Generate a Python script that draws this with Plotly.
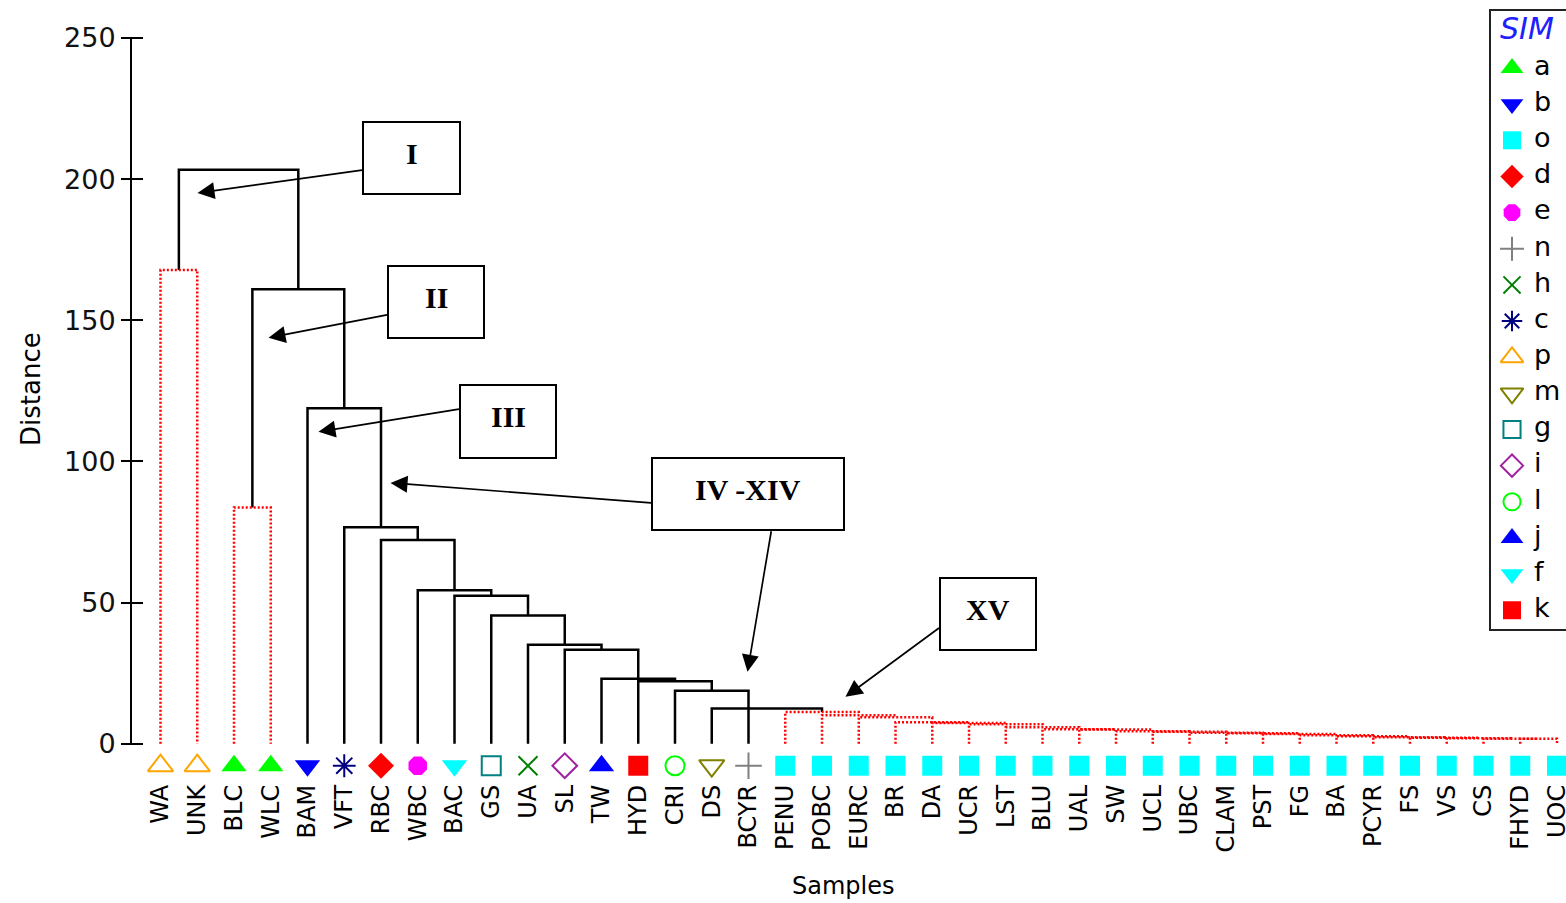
import plotly.graph_objects as go

# ---- samples in dendrogram order and their class labels ----
leaf_names = ["WA", "UNK", "BLC", "WLC", "BAM", "VFT", "RBC", "WBC", "BAC", "GS",
              "UA", "SL", "TW", "HYD", "CRI", "DS", "BCYR", "PENU", "POBC", "EURC",
              "BR", "DA", "UCR", "LST", "BLU", "UAL", "SW", "UCL", "UBC", "CLAM",
              "PST", "FG", "BA", "PCYR", "FS", "VS", "CS", "FHYD", "UOC"]
leaf_class = ["p", "p", "a", "a", "b", "c", "d", "e", "f", "g",
              "h", "i", "j", "k", "l", "m", "n", "o", "o", "o",
              "o", "o", "o", "o", "o", "o", "o", "o", "o", "o",
              "o", "o", "o", "o", "o", "o", "o", "o", "o"]

# classes in legend order
class_order = ["a", "b", "o", "d", "e", "n", "h", "c", "p", "m", "g", "i", "l", "j", "f", "k"]

# ---- merges (children are defined before their parents) ----
link_id = ["WA+UNK", "BLC+WLC",
           "m37", "m36", "m35", "m34", "m33", "m32", "m31", "m30", "m29", "m28", "m27",
           "m26", "m25", "m24", "m23", "m22", "m21", "m20", "m19", "m18", "m17",
           "DS+m17", "CRI+BCYR",
           "c13", "c12", "c11", "c10", "c9", "c8", "c7", "c6", "c5", "c4", "c3",
           "root"]
link_left = ["WA", "BLC",
             "FHYD", "CS", "VS", "FS", "PCYR", "BA", "FG", "PST", "CLAM", "UBC", "UCL",
             "SW", "UAL", "BLU", "LST", "UCR", "DA", "BR", "EURC", "POBC", "PENU",
             "DS", "CRI",
             "HYD", "TW", "SL", "UA", "GS", "BAC", "WBC", "RBC", "VFT", "BAM", "BLC+WLC",
             "WA+UNK"]
link_right = ["UNK", "WLC",
              "UOC", "m37", "m36", "m35", "m34", "m33", "m32", "m31", "m30", "m29", "m28",
              "m27", "m26", "m25", "m24", "m23", "m22", "m21", "m20", "m19", "m18",
              "m17", "BCYR",
              "CRI+BCYR", "c13", "c12", "c11", "c10", "c9", "c8", "c7", "c6", "c5", "c4",
              "c3"]
link_height = [167.8, 83.7,
               1.75, 1.8, 1.95, 2.1, 2.3, 2.65, 3.0, 3.4, 3.7, 3.9, 4.25,
               4.4, 5.0, 5.1, 5.8, 6.9, 7.3, 7.6, 9.4, 10.1, 11.2,
               12.5, 18.8,
               22.1, 23.0, 33.3, 35.1, 45.4, 52.4, 54.4, 72.2, 76.7, 118.8, 161.0,
               203.3]

y_ticks = [0, 50, 100, 150, 200, 250]

# ---- styling ----
class_style = {
    "a": dict(symbol="triangle-up", color="#00ff00"),
    "b": dict(symbol="triangle-down", color="#0000ff"),
    "o": dict(symbol="square", color="#00ffff"),
    "d": dict(symbol="diamond", color="#ff0000"),
    "e": dict(symbol="octagon", color="#ff00ff"),
    "n": dict(symbol="cross-thin-open", color="#808080"),
    "h": dict(symbol="x-thin-open", color="#008000"),
    "c": dict(symbol="asterisk-open", color="#000080"),
    "p": dict(symbol="triangle-up-open", color="#ffa500"),
    "m": dict(symbol="triangle-down-open", color="#808000"),
    "g": dict(symbol="square-open", color="#008080"),
    "i": dict(symbol="diamond-open", color="#a020a0"),
    "l": dict(symbol="circle-open", color="#00ff00"),
    "j": dict(symbol="triangle-up", color="#0000ff"),
    "f": dict(symbol="triangle-down", color="#00ffff"),
    "k": dict(symbol="square", color="#ff0000"),
}
FONT = "DejaVu Sans"
MARKER_ROW = -7.8          # distance units below the baseline
Y_MIN = -12.5              # room for the marker row
W, H = 1566, 903
M_L, M_T, M_B = 131, 38, 124
PLOT_H = H - M_T - M_B
PX_PER_LEAF = 36.75
X_LO = -0.8027


def marker_kw(cls, scale=1.0):
    st = class_style[cls]
    sym = st["symbol"]
    is_open = sym.endswith("open")
    size = 22 if sym.startswith("triangle") else (19 if is_open else 20)
    return dict(symbol=sym, color=st["color"], size=size * scale,
                line=dict(color=st["color"], width=2 if is_open else 0))


def px_to_paper_x(px):
    return (px - M_L) / (W - M_L)


def px_to_paper_y(py):
    return (H - M_B - py) / PLOT_H


# ---- dendrogram geometry ----
pos = {name: float(i) for i, name in enumerate(leaf_names)}
top = {name: 0.0 for name in leaf_names}
members = {name: {cls} for name, cls in zip(leaf_names, leaf_class)}

paths = {"same": ([], []), "mixed": ([], [])}
for lid, left, right, h in zip(link_id, link_left, link_right, link_height):
    xl, xr = pos[left], pos[right]
    classes = members[left] | members[right]
    kind = "same" if len(classes) == 1 else "mixed"
    xs, ys = paths[kind]
    xs += [xl, xl, xr, xr, None]
    ys += [top[left], h, h, top[right], None]
    pos[lid] = (xl + xr) / 2
    top[lid] = h
    members[lid] = classes

fig = go.Figure()

fig.add_trace(go.Scatter(
    x=paths["mixed"][0], y=paths["mixed"][1], mode="lines",
    line=dict(color="black", width=2.5), showlegend=False, hoverinfo="skip"))
fig.add_trace(go.Scatter(
    x=paths["same"][0], y=paths["same"][1], mode="lines",
    line=dict(color="#ff0000", width=2.5, dash="2px,2px"), showlegend=False,
    hoverinfo="skip"))

# sample markers, one trace per class
for cls in class_order:
    idx = [i for i, c in enumerate(leaf_class) if c == cls]
    fig.add_trace(go.Scatter(
        x=idx, y=[MARKER_ROW] * len(idx), mode="markers", name=cls,
        cliponaxis=False, hoverinfo="text", text=[leaf_names[i] for i in idx],
        marker=marker_kw(cls), showlegend=False))

# ---- class key (drawn on its own pixel-scaled axes at the upper right) ----
KEY_L, KEY_R, KEY_T, KEY_B = 1490, 1566, 10, 630
key_rows = [68 + 36.15 * k for k in range(len(class_order))]
for k, cls in enumerate(class_order):
    fig.add_trace(go.Scatter(
        x=[1512], y=[key_rows[k]], mode="markers", marker=marker_kw(cls, 0.9),
        xaxis="x2", yaxis="y3", showlegend=False, hoverinfo="skip", cliponaxis=False))
fig.add_trace(go.Scatter(
    x=[1534] * len(class_order), y=key_rows, mode="text", text=class_order,
    textposition="middle right", textfont=dict(family=FONT, size=27, color="black"),
    xaxis="x2", yaxis="y3", showlegend=False, hoverinfo="skip", cliponaxis=False))

shapes = [
    # y axis line from 0 to 250
    dict(type="line", xref="paper", yref="y", x0=0, x1=0, y0=0, y1=250,
         line=dict(color="black", width=2), layer="above"),
    # class key frame
    dict(type="rect", xref="paper", yref="paper",
         x0=px_to_paper_x(KEY_L), x1=px_to_paper_x(KEY_R + 8),
         y0=px_to_paper_y(KEY_B), y1=px_to_paper_y(KEY_T),
         line=dict(color="#222222", width=2), fillcolor="rgba(0,0,0,0)", layer="above"),
]

# ---- cluster callouts: framed labels with arrows ----
callouts = [
    # label, frame (left, top, right, bottom) in px
    ("I", (363, 122, 460, 194)),
    ("II", (388, 266, 484, 338)),
    ("III", (460, 385, 556, 458)),
    ("IV -XIV", (652, 458, 844, 530)),
    ("XV", (940, 578, 1036, 650)),
]
arrows = [
    (1.007, 195.1, 5.524, 203.3),
    (2.939, 143.8, 6.204, 152.0),
    (4.299, 110.5, 8.163, 118.6),
    (6.259, 92.4, 13.388, 85.3),
    (15.973, 25.5, 16.626, 75.8),
    (18.639, 16.6, 21.224, 41.4),
]
annotations = []
for hx, hy, tx, ty in arrows:
    annotations.append(dict(
        x=hx, y=hy, ax=tx, ay=ty, xref="x", yref="y", axref="x", ayref="y",
        text="", showarrow=True, arrowhead=2, arrowsize=2, arrowwidth=1.7,
        arrowcolor="black", standoff=0, startstandoff=0))

for label, (bl, bt, br, bb) in callouts:
    shapes.append(dict(
        type="rect", xref="paper", yref="paper",
        x0=px_to_paper_x(bl), x1=px_to_paper_x(br),
        y0=px_to_paper_y(bb), y1=px_to_paper_y(bt),
        line=dict(color="black", width=2), fillcolor="white", layer="above"))
    annotations.append(dict(
        x=px_to_paper_x((bl + br) / 2), y=px_to_paper_y((bt + bb) / 2 - 5),
        xref="paper", yref="paper", xanchor="center", yanchor="middle",
        text="<b>%s</b>" % label, showarrow=False,
        font=dict(family="Liberation Serif", size=30, color="black")))

annotations += [
    dict(x=px_to_paper_x(31), y=px_to_paper_y(389), xref="paper", yref="paper",
         text="Distance", textangle=-90, xanchor="center", yanchor="middle",
         showarrow=False, font=dict(family=FONT, size=26, color="black")),
    dict(x=px_to_paper_x(843), y=px_to_paper_y(886), xref="paper", yref="paper",
         text="Samples", xanchor="center", yanchor="middle", showarrow=False,
         font=dict(family=FONT, size=24, color="black")),
    dict(x=px_to_paper_x(1498), y=px_to_paper_y(28), xref="paper", yref="paper",
         text="SIM", xanchor="left", yanchor="middle", showarrow=False,
         font=dict(family=FONT, size=30, color="#2020ff", style="italic")),
]

fig.update_layout(
    width=W, height=H,
    margin=dict(l=M_L, r=0, t=M_T, b=M_B, autoexpand=False),
    paper_bgcolor="white", plot_bgcolor="white",
    font=dict(family=FONT, color="black"),
    showlegend=False,
    xaxis=dict(range=[X_LO, X_LO + (W - M_L) / PX_PER_LEAF], showgrid=False,
               zeroline=False, showline=False, ticks="", tickmode="array",
               tickvals=list(range(len(leaf_names))), ticktext=leaf_names,
               tickangle=-90, tickfont=dict(family=FONT, size=24, color="black"),
               ticklabelstandoff=0, ticklabeloverflow="allow"),
    # ticks straddle the axis line: the axis sits 12 px right of the drawn line
    yaxis=dict(range=[Y_MIN, 250], tickvals=y_ticks, showgrid=False, zeroline=False,
               showline=False, anchor="free", position=12 / (W - M_L),
               ticks="outside", ticklen=22, tickwidth=2, tickcolor="black",
               tickfont=dict(family=FONT, size=27, color="#111111")),
    xaxis2=dict(domain=[px_to_paper_x(KEY_L), 1], range=[KEY_L, W], visible=False,
                anchor="y3"),
    yaxis3=dict(domain=[px_to_paper_y(KEY_B), 1], range=[KEY_B, M_T], visible=False,
                anchor="x2"),
    shapes=shapes,
    annotations=annotations,
)

fig.write_html("out.html", config={"displayModeBar": False})
